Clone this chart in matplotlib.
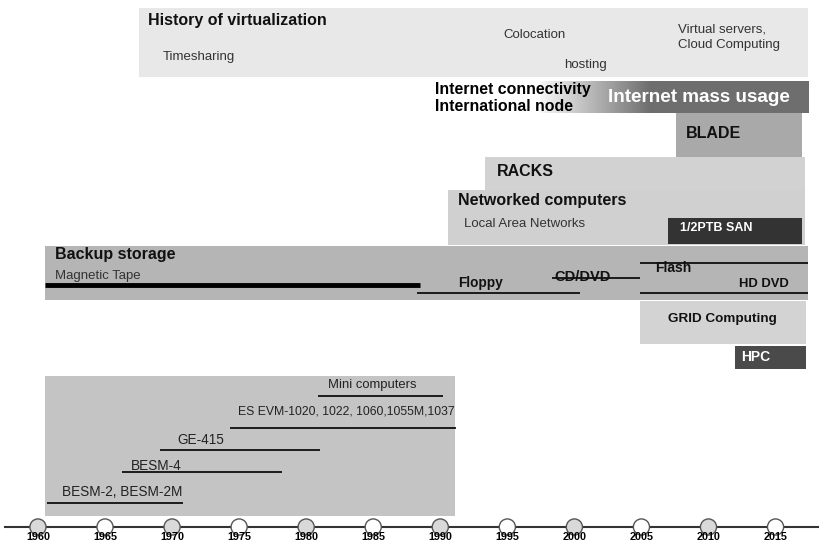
import numpy as np
import matplotlib.pyplot as plt

plt.rcParams['font.family'] = ['Liberation Sans', 'DejaVu Sans']
NARROW = ['Liberation Sans Narrow', 'Liberation Sans', 'DejaVu Sans']

# timeline ticks
years = [1960, 1965, 1970, 1975, 1980, 1985, 1990, 1995, 2000, 2005, 2010, 2015]

# shaded eras, in years
box_names = ['History of virtualization', 'BLADE', 'RACKS', 'Networked computers',
             '1/2PTB SAN', 'Backup storage', 'GRID Computing', 'HPC', 'Mainframes']
box_start = [1967.5, 2007.6, 1993.3, 1990.6, 2007.0, 1960.5, 2004.9, 2012.0, 1960.5]
box_end = [2017.4, 2017.0, 2017.2, 2017.2, 2017.0, 2017.4, 2017.3, 2017.3, 1991.1]

# internet band: fades in, then mass usage
internet_start = 1997.4
internet_mass = 2005.6
internet_end = 2017.4

# media / machines drawn as spans
span_names = ['Magnetic Tape', 'Floppy', 'CD/DVD', 'Flash', 'HD DVD',
              'Mini computers', 'ES EVM-1020, 1022, 1060,1055M,1037', 'GE-415',
              'BESM-4', 'BESM-2, BESM-2M']
span_start = [1960.5, 1988.3, 1998.3, 2004.9, 2004.9, 1980.9, 1974.3, 1969.1, 1966.3, 1960.7]
span_end = [1988.5, 2000.4, 2004.9, 2017.4, 2017.4, 1990.2, 1991.2, 1981.0, 1978.2, 1970.8]

# layout (vertical positions in pixels from top) and styles
box_rows = [(8, 77), (112, 157), (157, 190), (190, 245), (218, 244),
            (246, 300), (301, 344), (346, 369), (376, 516)]
box_colors = ['#e8e8e8', '#a9a9a9', '#d2d2d2', '#d0d0d0', '#333333',
              '#b5b5b5', '#d3d3d3', '#4a4a4a', '#c4c4c4']
span_rows = [285, 293, 278, 263, 293, 396, 428, 450, 472, 503]
span_widths = [3.5, 1.2, 1.2, 1.2, 1.2, 1.2, 1.2, 1.2, 1.2, 1.2]

fig = plt.figure(figsize=(8.19, 5.43), dpi=100)
ax = fig.add_axes([0, 0, 1, 1])
ax.set_xlim(1957.17, 2018.24)
ax.set_ylim(543, 0)
ax.axis('off')

for s, e, (top, bot), c in zip(box_start, box_end, box_rows, box_colors):
    ax.barh((top + bot) / 2, e - s, left=s, height=bot - top, color=c,
            edgecolor='none', zorder=1)

# internet gradient band
xs = np.linspace(internet_start, internet_end, 400)
shade = np.interp(xs, [internet_start, internet_mass], [0.97, 0.43])
ax.imshow(shade[None, :], cmap='gray', vmin=0, vmax=1, aspect='auto',
          extent=[internet_start, internet_end, 113, 81], zorder=1)

for s, e, y, w in zip(span_start, span_end, span_rows, span_widths):
    ax.plot([s, e], [y, y], color='black', lw=w, solid_capstyle='butt', zorder=3)

# labels
def label(x, y, txt, size=8, bold=False, color='#111111', family=None, **kw):
    ax.text(x, y, txt, fontsize=size, fontweight='bold' if bold else 'normal',
            color=color, va='center', ha=kw.pop('ha', 'left'),
            family=family if family else plt.rcParams['font.family'],
            zorder=4, **kw)

label(1968.2, 20, box_names[0], 11.5, True)
label(1969.3, 57, 'Timesharing', 9.5, color='#333333')
label(1994.7, 35, 'Colocation', 9.5, color='#333333')
label(1999.2, 65, 'hosting', 9.5, color='#333333')
label(2007.7, 37, 'Virtual servers,\nCloud Computing', 9.5, color='#333333',
      linespacing=1.35)
label(1989.6, 98, 'Internet connectivity\nInternational node', 11.4, True,
      color='black', linespacing=1.2)
label(2002.5, 98, 'Internet mass usage', 13.6, True, color='white')
label(box_start[1] + 0.7, 133, box_names[1], 11.5, True)
label(1994.2, 171, box_names[2], 11.5, True)
label(1991.3, 201, box_names[3], 11.5, True)
label(1991.8, 224, 'Local Area Networks', 9.5, color='#333333')
label(box_start[4] + 0.9, 228, box_names[4], 9, True, color='white')
label(1961.3, 255, box_names[5], 11.5, True)
label(1961.3, 276, span_names[0], 9.5, color='#333333')
label(1991.3, 283, span_names[1], 9.8, True, family=NARROW)
label(1998.5, 277, span_names[2], 10.5, True, family=NARROW)
label(2006.0, 268, span_names[3], 10, True, family=NARROW)
label(2012.3, 284, span_names[4], 9.4, True, family=NARROW)
label(2007.0, 319, box_names[6], 9.7, True, family=NARROW)
label(2012.4, 357, box_names[7], 10, True, color='white')
label(1981.6, 385, span_names[5], 9.4, color='#222222')
label(1974.9, 412, span_names[6], 8.8, color='#222222')
label(1970.4, 440, span_names[7], 9.8, color='#222222')
label(1966.9, 466, span_names[8], 9.8, color='#222222')
label(1961.8, 492, span_names[9], 9.8, color='#222222')

# timeline
ax.axhline(527, xmin=0.006, xmax=1, color='#333333', lw=1.5, zorder=2)
fills = ['#d9d9d9' if y % 10 == 0 else 'white' for y in years]
ax.scatter(years, [527] * len(years), s=135, c=fills, edgecolors='#555555',
           linewidths=1.0, zorder=3)
for y in years:
    ax.text(y, 537, str(y), fontsize=7.8, fontweight='bold', ha='center',
            va='center', family=NARROW, zorder=4)

fig.savefig('out.png', dpi=100)
